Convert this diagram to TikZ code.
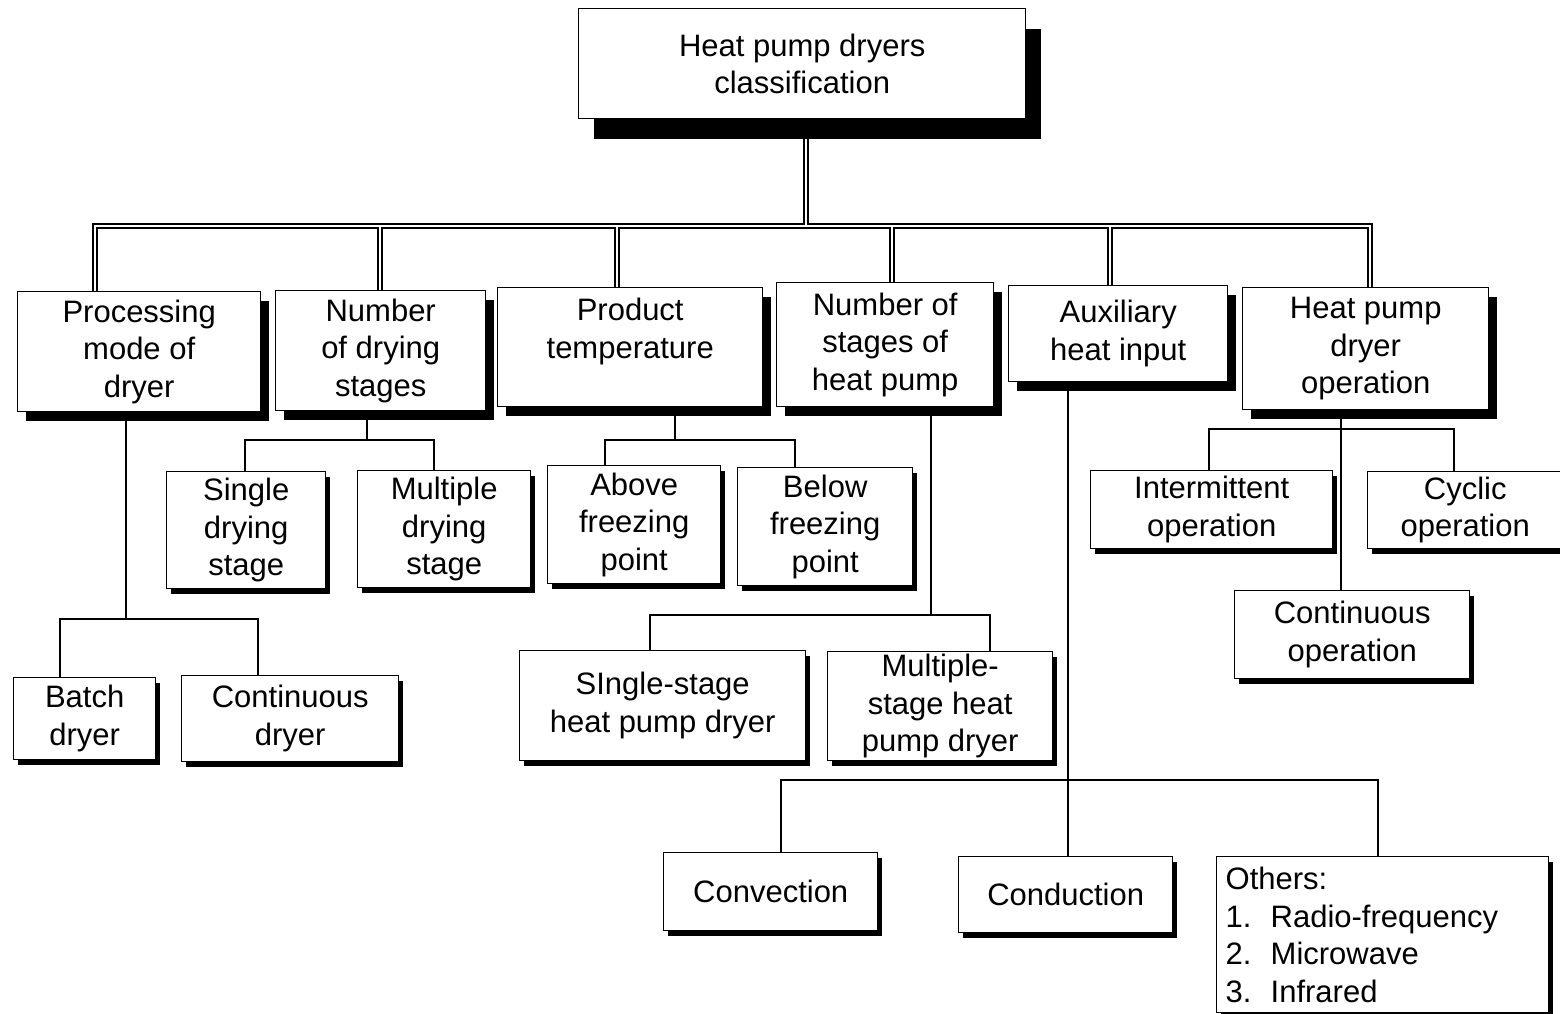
\documentclass[tikz,border=0pt]{standalone}
\usepackage{fontspec}
\setmainfont{Liberation Sans}
\usetikzlibrary{shadows}
\pgfdeclarelayer{back}
\pgfdeclarelayer{bg}
\pgfsetlayers{back,bg,main}
\tikzset{
  box/.style={draw=black, line width=1.4pt, fill=white, inner sep=0pt, align=center,
    font=\fontsize{31}{37.5}\selectfont},
  bigbox/.style={box, drop shadow={shadow xshift=15pt, shadow yshift=-20pt, fill=black, opacity=1}},
  catbox/.style={box, drop shadow={shadow xshift=8pt, shadow yshift=-9pt, fill=black, opacity=1}},
  leafbox/.style={box, drop shadow={shadow xshift=4.5pt, shadow yshift=-5pt, fill=black, opacity=1}},
  ln/.style={draw=black, line width=1.3pt},
  dbl/.style={draw=black, line width=1.2pt, double=white, double distance=2.8pt}
}
\newcommand\bx[7]{\node[#6, anchor=north west, minimum width={#4-#2}, minimum height={#5-#3}] (#1) at (#2,#3) {#7};}
\begin{document}
\begin{tikzpicture}[x=1pt,y=-1pt]
\useasboundingbox (0,0) rectangle (1560,1014);
\begin{pgfonlayer}{back}
\fill[white] (0,0) rectangle (1560,1014);
\end{pgfonlayer}
% level 0
\bx{top}{578}{8}{1025}{118}{bigbox}{Heat pump dryers\\classification}
% level 1
\bx{proc}{17}{291}{260}{411}{catbox}{Processing\\mode of\\dryer}
\bx{ndry}{275}{290}{485}{410}{catbox}{Number\\of drying\\stages}
\bx{ptemp}{497}{287}{762}{406}{catbox}{Product\\temperature\\\mbox{}}
\bx{nhp}{776}{282}{993}{406}{catbox}{Number of\\stages of\\heat pump}
\bx{aux}{1008}{285}{1227}{381}{catbox}{Auxiliary\\heat input}
\bx{hpop}{1242}{287}{1488}{409}{catbox}{Heat pump\\dryer\\operation}
% level 2
\bx{sds}{166}{471}{325}{588}{leafbox}{Single\\drying\\stage}
\bx{mds}{357}{470}{530}{587}{leafbox}{Multiple\\drying\\stage}
\bx{above}{547}{465}{720}{583}{leafbox}{Above\\freezing\\point}
\bx{below}{737}{467}{912}{585}{leafbox}{Below\\freezing\\point}
\bx{inter}{1090}{470}{1332}{548}{leafbox}{Intermittent\\operation}
\bx{cyclic}{1367}{471}{1562}{548}{leafbox}{Cyclic\\operation}
\bx{contop}{1234}{590}{1469}{678}{leafbox}{Continuous\\operation}
\bx{batch}{13}{677}{155}{759}{leafbox}{Batch\\dryer}
\bx{contdry}{181}{675}{398}{761}{leafbox}{Continuous\\dryer}
\bx{sshp}{519}{650}{805}{760}{leafbox}{SIngle-stage\\heat pump dryer}
\bx{mshp}{827}{651}{1052}{760}{leafbox}{Multiple-\\stage heat\\pump dryer}
\bx{conv}{663}{852}{877}{930}{leafbox}{Convection}
\bx{cond}{958}{856}{1172}{932}{leafbox}{Conduction}
\node[leafbox, anchor=north west, minimum width=332, minimum height=156, inner xsep=9pt, text width=314pt, align=left] (others) at (1216,856)
  {Others:\\\makebox[45pt][l]{1.}Radio-frequency\\\makebox[45pt][l]{2.}Microwave\\\makebox[45pt][l]{3.}Infrared};
% connectors
\begin{pgfonlayer}{bg}
\draw[dbl] (top.south -| 806,0) -- (806,226)
  (proc.north -| 95,0) |- (1370,226) -- (hpop.north -| 1370,0)
  (ndry.north -| 380,0) -- (380,226)
  (ptemp.north -| 617,0) -- (617,226)
  (nhp.north -| 892,0) -- (892,226)
  (aux.north -| 1110,0) -- (1110,226);
\draw[ln] (proc.south -| 126,0) -- (126,619);
\draw[ln] (batch.north -| 60,0) -- (60,619) -| (contdry.north -| 258,0);
\draw[ln] (ndry.south -| 367,0) -- (367,440);
\draw[ln] (sds.north -| 245,0) -- (245,440) -| (mds.north -| 434,0);
\draw[ln] (ptemp.south -| 675,0) -- (675,440);
\draw[ln] (above.north -| 605,0) -- (605,440) -| (below.north -| 795,0);
\draw[ln] (nhp.south -| 931,0) -- (931,615);
\draw[ln] (sshp.north -| 650,0) -- (650,615) -| (mshp.north -| 990,0);
\draw[ln] (aux.south -| 1068,0) -- (cond.north -| 1068,0);
\draw[ln] (conv.north -| 781,0) -- (781,780) -| (others.north -| 1378,0);
\draw[ln] (hpop.south -| 1341,0) -- (contop.north -| 1341,0);
\draw[ln] (inter.north -| 1209,0) -- (1209,429) -| (cyclic.north -| 1454,0);
\end{pgfonlayer}
\end{tikzpicture}
\end{document}
